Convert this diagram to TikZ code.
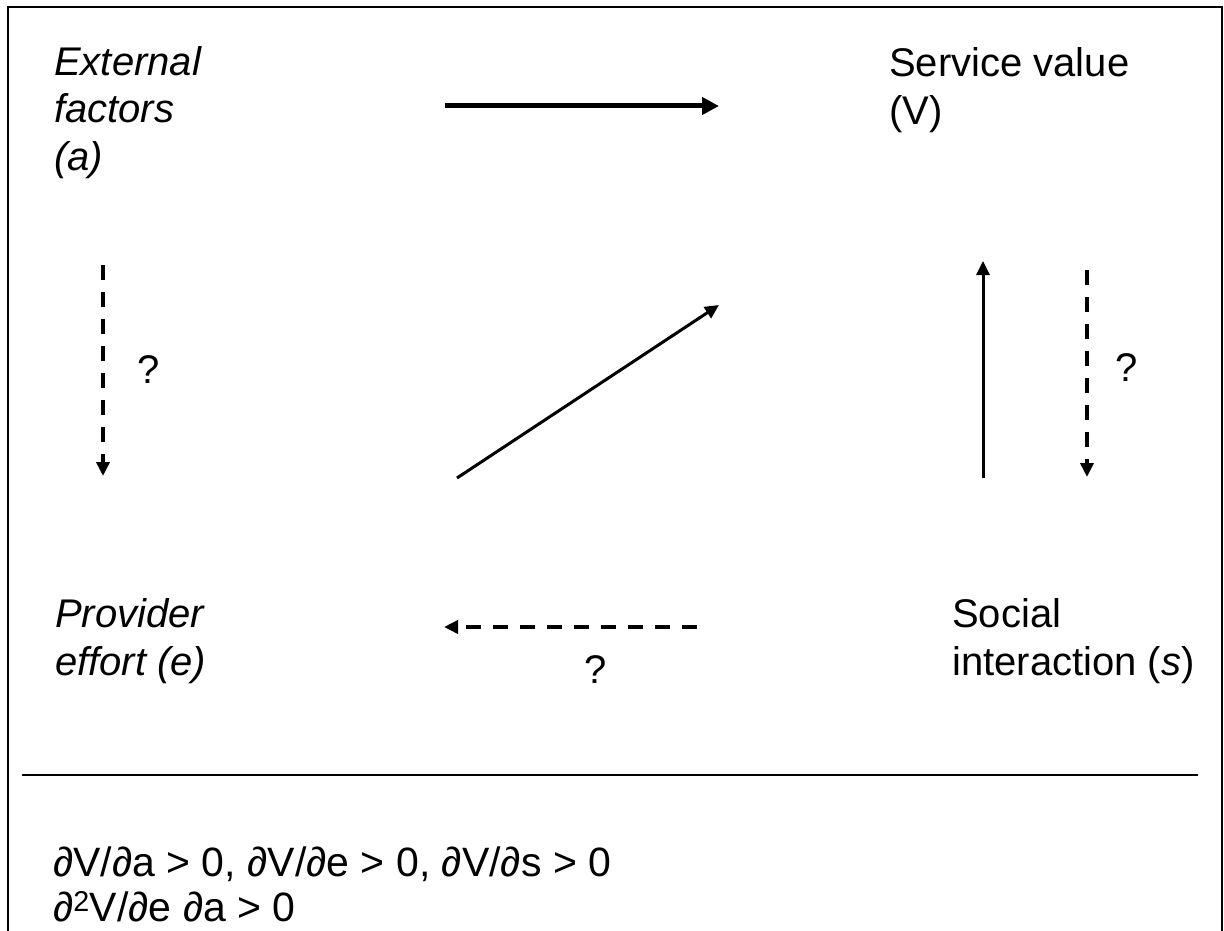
\documentclass[tikz,border=0pt]{standalone}
\usepackage{fontspec}
\setmainfont{Liberation Sans}
\usetikzlibrary{arrows.meta}

\begin{document}
\begin{tikzpicture}[
    x=1pt, y=-1pt,
    lbl/.style={anchor=base west, inner sep=0pt, align=left, font=\fontsize{40}{48}\selectfont},
    qmark/.style={inner sep=0pt, font=\fontsize{40}{48}\selectfont},
    bigarrow/.style={-{Triangle[length=17pt, width=17pt]}, line width=5pt},
    arrow/.style={-{Triangle[length=14pt, width=13pt]}, line width=3pt},
    dasharrow/.style={arrow, line width=3.5pt, dash pattern=on 15pt off 12pt},
]
    \useasboundingbox (0,0) rectangle (1224,931);
    \clip (0,0) rectangle (1224,931);
    \draw[line width=2pt] (8,7) rectangle (1222,960);

    % the four factors
    \node[lbl, font=\fontsize{40}{48}\selectfont\itshape] (ext) at (54,171) {External\\factors\\(a)};
    \node[lbl] (val) at (889,125) {Service value\\(V)};
    \node[lbl, font=\fontsize{40}{48}\selectfont\itshape] (eff) at (55,675) {Provider\\effort (e)};
    \node[lbl] (soc) at (952,675) {Social\\interaction (\textit{s})};

    % arrow ends
    \coordinate (ext-out) at (445,106);
    \coordinate (val-in) at (719,106);
    \coordinate (ext-down) at (103,265);
    \coordinate (eff-up) at (103,476);
    \coordinate (eff-diag) at (457,478);
    \coordinate (val-diag) at (719,305);
    \coordinate (soc-up) at (983,478);
    \coordinate (val-low) at (983,261);
    \coordinate (val-down) at (1087,270);
    \coordinate (soc-top) at (1087,477);
    \coordinate (soc-left) at (697,627);
    \coordinate (eff-right) at (444,627);

    \draw[bigarrow] (ext-out) -- (val-in);
    \draw[dasharrow] (ext-down) -- (eff-up);
    \draw[arrow] (eff-diag) -- (val-diag);
    \draw[arrow] (soc-up) -- (val-low);
    \draw[dasharrow] (val-down) -- (soc-top);
    \draw[dasharrow] (soc-left) -- (eff-right);

    \node[qmark] (q1) at (149,370) {?};
    \node[qmark] (q2) at (1127,368) {?};
    \node[qmark] (q3) at (596,670) {?};

    % conditions
    \coordinate (rule-w) at (22,775);
    \coordinate (rule-e) at (1198,775);
    \draw[line width=2.5pt] (rule-w) -- (rule-e);
    \node[lbl, font=\fontsize{41}{45}\selectfont] (cond) at (53,921)
        {∂V/∂a > 0, ∂V/∂e > 0, ∂V/∂s > 0\\∂\textsuperscript{2}V/∂e ∂a > 0};
\end{tikzpicture}
\end{document}
